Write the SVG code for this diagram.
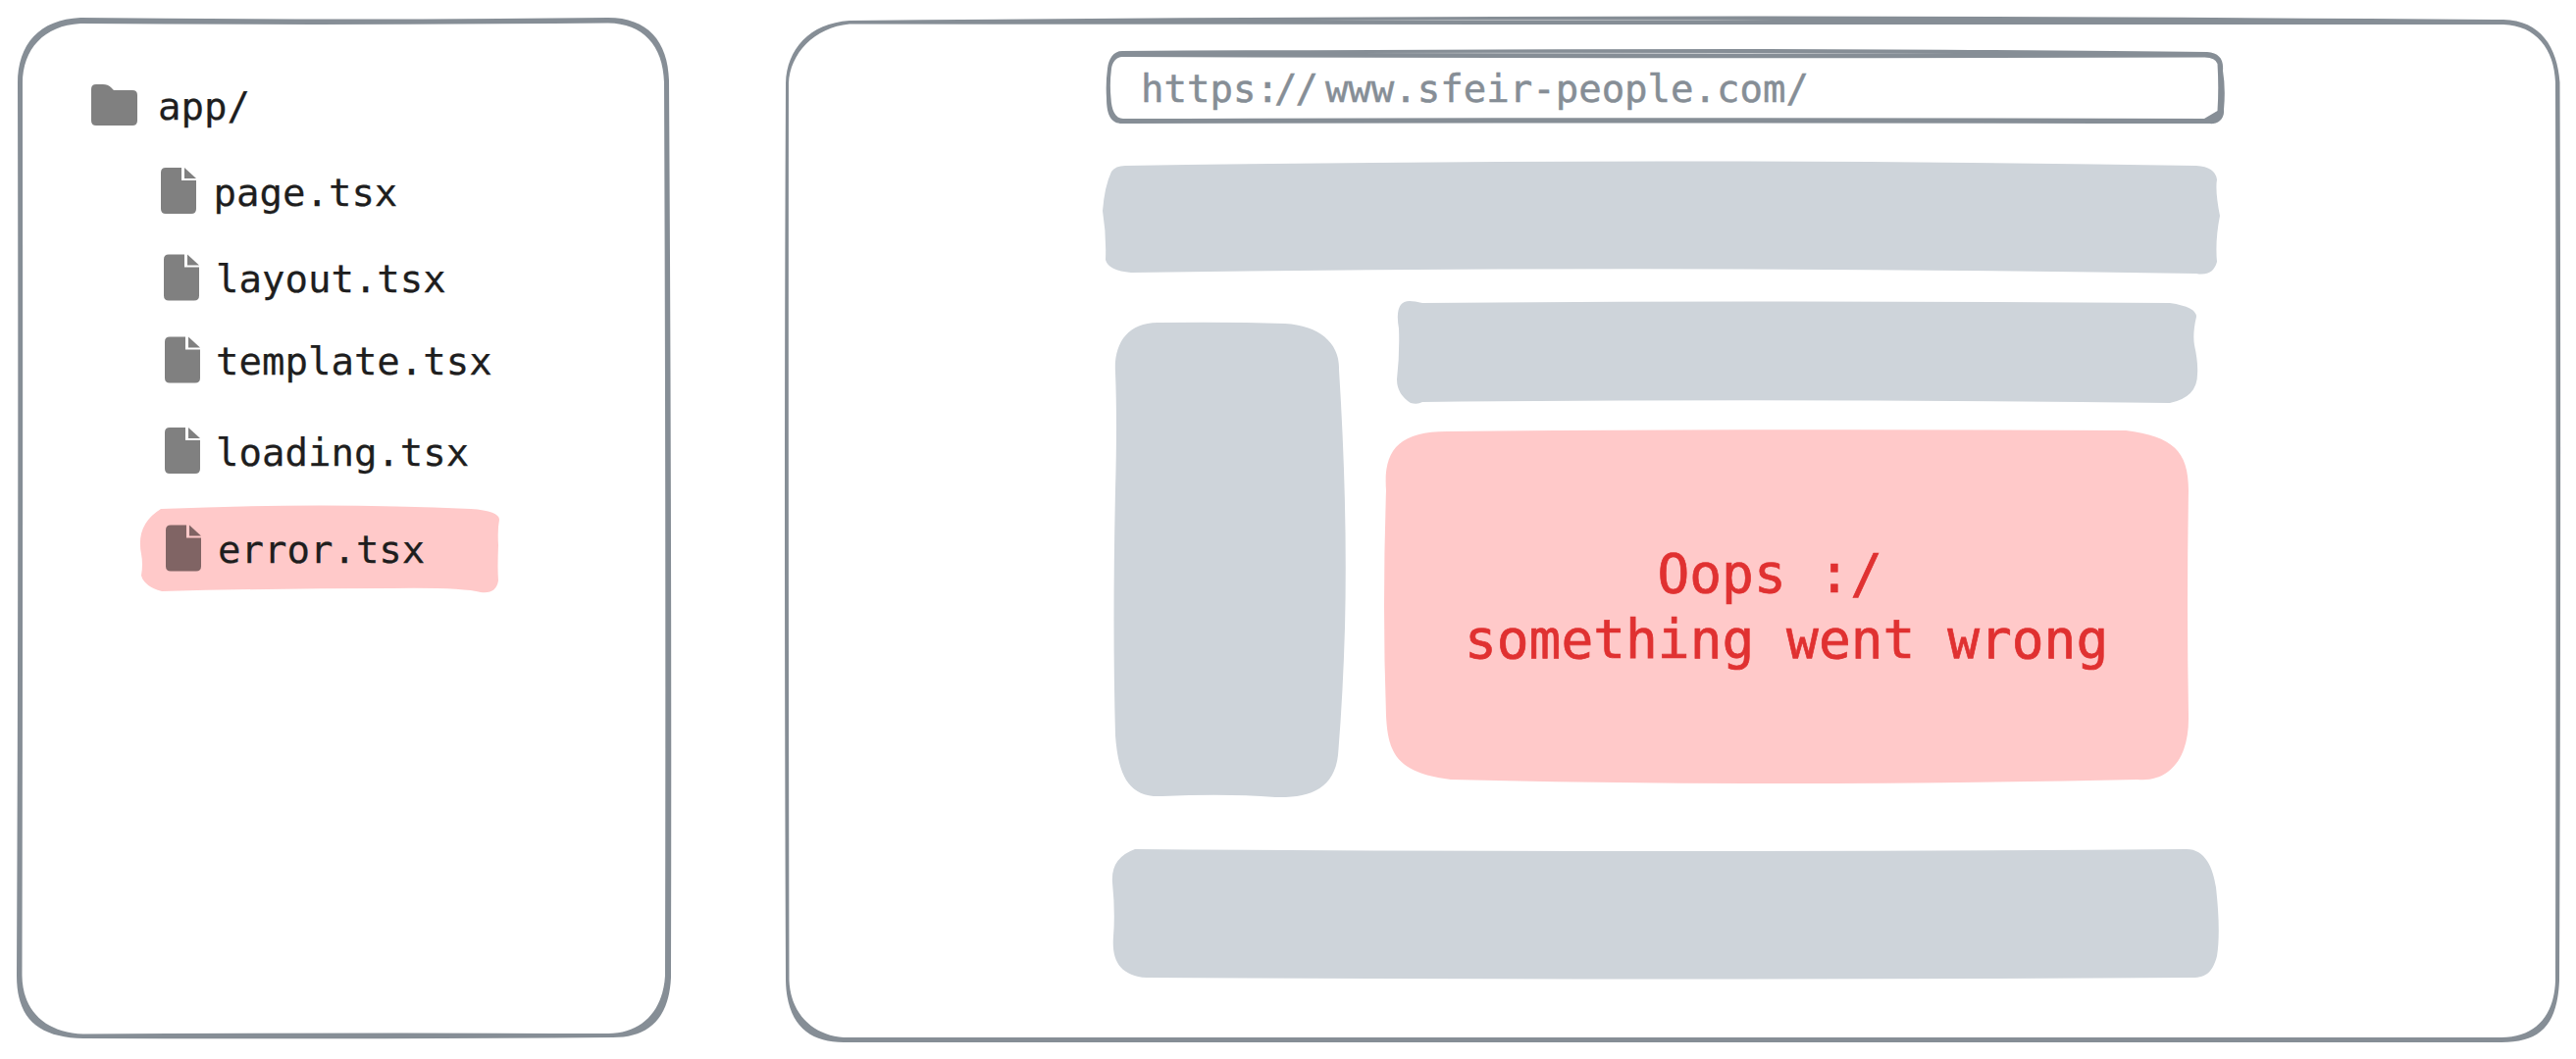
<svg xmlns="http://www.w3.org/2000/svg" width="2626" height="1080" viewBox="0 0 2626 1080">
<style>
.ring{fill:#868e96;fill-rule:evenodd}
.gap{fill:#fff;opacity:.55}
.grey{fill:#ced4da}
.pink{fill:#ffc9c9}
.file{fill:#1e1e1e;font-family:"DejaVu Sans Mono","Liberation Mono",monospace;font-size:39px;stroke:#1e1e1e;stroke-width:.25px}
.url{fill:#868e96;font-family:"DejaVu Sans Mono","Liberation Mono",monospace;font-size:39px;stroke:#868e96;stroke-width:.5px}
.oops{fill:#e03131;font-family:"DejaVu Sans Mono","Liberation Mono",monospace;font-size:54.500px;stroke:#e03131;stroke-width:.7px}
.icon{fill:#808080}
.icon-err{fill:#806464}
</style>
<defs>
<g id="file-icon">
<path d="M5 0H21V13H36V42Q36 47 31 47H5Q0 47 0 42V5Q0 0 5 0Z"/>
<path d="M24 0L36 11H24Z"/>
</g>
</defs>
<rect width="2626" height="1080" fill="#fff"/>
<g id="tree-panel">
<path class="ring" d="M82 18Q350 21 620 18C660 18 681 42 682 82Q685 560 684 997C682 1040 660 1058 625 1058Q360 1060 85 1059C40 1058 17 1040 17 995Q19 540 18 85C18 45 40 20 82 18ZM82 24Q350 26 620 23.500C655 24 676 46 677 84Q679 560 678 995C676 1030 655 1054 620 1054Q360 1053 85 1054.500C45 1053 23 1030 22.500 995Q23.500 540 23 85C23 50 45 26 82 24Z"/>
</g>
<g id="app-folder">
<path class="icon" d="M98 86H105Q110 86 113 89L116 92H135Q140 92 140 97V123Q140 128 135 128H98Q93 128 93 123V91Q93 86 98 86Z"/>
<text class="file" x="161" y="122">app/</text>
</g>
<g id="page-file">
<use class="icon" href="#file-icon" x="164" y="171"/>
<text class="file" x="217.500" y="209.500">page.tsx</text>
</g>
<g id="layout-file">
<use class="icon" href="#file-icon" x="167" y="259.500"/>
<text class="file" x="220" y="297.500">layout.tsx</text>
</g>
<g id="template-file">
<use class="icon" href="#file-icon" x="168" y="343.500"/>
<text class="file" x="220" y="382">template.tsx</text>
</g>
<g id="loading-file">
<use class="icon" href="#file-icon" x="168" y="436"/>
<text class="file" x="220" y="474.500">loading.tsx</text>
</g>
<g id="error-file">
<path class="pink" d="M164 519Q330 512 480 519Q509 521 509 530Q507 540 508 556Q507 580 508 592Q506 606 490 604Q470 599 400 600Q280 600 165 603Q147 598 144 587Q146 575 144 565Q138 535 164 519Z"/>
<use class="icon-err" href="#file-icon" x="169" y="535.500"/>
<text class="file" x="222" y="574">error.tsx</text>
</g>
<g id="browser-panel">
<path class="ring" d="M866 21Q1300 17 1800 16.500Q2200 17 2552 20C2590 21 2607 48 2609.500 84Q2611 500 2609 1000C2607 1045 2590 1063 2550 1063L860 1063C825 1063 802 1045 801 1000Q799 500 801 85C802 50 825 24 866 21ZM866 24.500Q1300 25 1800 25Q2200 25 2552 25C2585 26 2604 50 2605 84Q2606 500 2605 1000C2604 1035 2585 1058 2550 1058L860 1058C830 1056 806 1035 804.500 1000Q803.500 500 804 85C805 55 830 28 866 24.500Z"/>
<path class="gap" d="M1335 20.500Q1600 20 1810 20.500Q1600 21.500 1335 20.500Z"/>
</g>
<g id="url-bar">
<path class="ring" d="M1144 52Q1500 50 1800 50Q2100 51 2250 53C2262 54 2267 60 2266 72Q2269 90 2267 112C2268 122 2260 127 2252 126Q1700 125 1144 126C1133 126 1128 118 1128 100Q1127 85 1129 70C1130 60 1135 52 1144 52ZM1144 58Q1700 60 2246 58.500Q2258 58 2260.500 65Q2262 90 2260.500 113L2247 121Q1700 119.500 1145 121C1137 121 1133 112 1132.500 100Q1131 85 1133 70C1134 63 1138 58 1144 58Z"/>
<path class="gap" d="M1386 54Q1700 53.500 1996 54.500Q1700 55.500 1386 54Z"/>
<text class="url" x="1163" y="103.500" dx="0 0 0 0 0 0 -5 -2 7">https://www.sfeir-people.com/</text>
</g>
<g id="header-block">
<path class="grey" d="M1147 169Q1700 160 2239 169Q2258 170 2260 183Q2258 195 2263 220Q2258 245 2260 267Q2256 282 2239 279Q1700 270 1153 278Q1130 276 1127 265Q1128 240 1124 215Q1126 190 1133 175Q1137 169 1147 169Z"/>
</g>
<g id="nav-block">
<path class="grey" d="M1437 307Q1442 307 1450 309Q1830 306 2212 309Q2239 313 2239 323Q2235 340 2237 352Q2241 370 2240 382Q2240 405 2212 411Q1830 406 1450 410Q1445 413 1438 411Q1424 402 1424 387Q1427 360 1426 335Q1421 307 1437 307Z"/>
</g>
<g id="side-block">
<path class="grey" d="M1182 329Q1250 328 1310 330C1345 332 1366 350 1365 377Q1374 520 1371 640Q1369 710 1364 770C1360 805 1335 814 1300 813Q1250 809 1185 812C1150 814 1140 790 1137 750Q1134 640 1137 500Q1139 430 1137 380C1135 350 1150 328 1182 329Z"/>
</g>
<g id="error-block">
<path class="pink" d="M1475 440Q1800 437 2167 439C2215 445 2231 460 2231 500Q2229 620 2231 730C2232 775 2210 798 2179 795Q1800 803 1479 795C1425 788 1415 770 1413 730Q1409 620 1413 500C1410 460 1425 440 1475 440Z"/>
<text class="oops" x="1689.500" y="603.500">Oops :/</text>
<text class="oops" x="1493" y="670.500">something went wrong</text>
</g>
<g id="footer-block">
<path class="grey" d="M1157 866Q1700 870 2229 866C2248 866 2256 885 2259 905Q2264 950 2260 975C2256 990 2250 997 2235 997Q1700 1000 1169 997C1142 995 1133 980 1135 955Q1137 930 1134 900Q1132 875 1157 866Z"/>
</g>
<g id="connectors"></g>
</svg>
